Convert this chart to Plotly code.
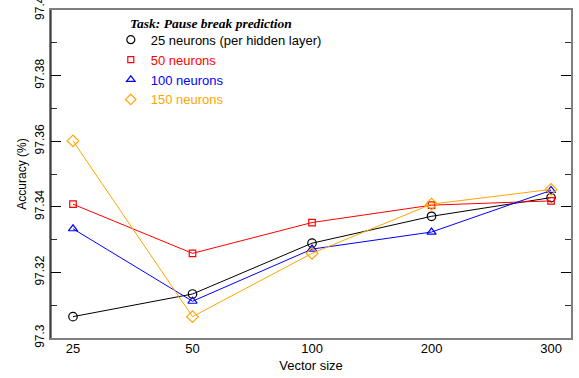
import plotly.graph_objects as go

vector_sizes = ["25", "50", "100", "200", "300"]
acc_25 = [97.3065, 97.3134, 97.3289, 97.3371, 97.3428]
acc_50 = [97.3408, 97.3258, 97.3352, 97.3405, 97.3418]
acc_100 = [97.3333, 97.3112, 97.3271, 97.3323, 97.3450]
acc_150 = [97.3601, 97.3065, 97.3258, 97.3408, 97.3453]

series_names = ["25 neurons (per hidden layer)", "50 neurons", "100 neurons", "150 neurons"]
series_values = [acc_25, acc_50, acc_100, acc_150]
colors = ["#000000", "#ff0000", "#0000ff", "#ffa500"]
symbols = ["circle-open", "square-open", "triangle-up-open", "diamond-open"]
sizes = [8.5, 6.5, 8, 9]
legend_sizes = [8, 6, 7.5, 8]

y_ticks = [97.30, 97.32, 97.34, 97.36, 97.38, 97.40]
y_tick_labels = ["97.3", "97.32", "97.34", "97.36", "97.38", "97.4"]

fig = go.Figure()
for name, vals, c, s, sz, lsz in zip(series_names, series_values, colors, symbols, sizes, legend_sizes):
    fig.add_trace(go.Scatter(
        x=vector_sizes, y=vals, mode="lines+markers", showlegend=False,
        line=dict(color=c, width=1),
        marker=dict(symbol=s, size=sz, color=c, line=dict(color=c, width=1.2)),
    ))
    fig.add_trace(go.Scatter(
        x=[None], y=[None], mode="markers",
        name=f'<span style="color:{c}">{name}</span>',
        marker=dict(symbol=s, size=lsz, color=c, line=dict(color=c, width=1.2)),
    ))

fig.update_layout(
    width=579, height=378,
    margin=dict(l=51, r=8, t=10, b=40, autoexpand=False),
    paper_bgcolor="white", plot_bgcolor="white",
    font=dict(family="Liberation Sans, Arial", size=12, color="black"),
    showlegend=True,
    legend=dict(x=0.115, y=0.955, xanchor="left", yanchor="top",
                font=dict(size=13), bgcolor="rgba(0,0,0,0)",
                tracegroupgap=0, itemwidth=30),
    xaxis=dict(type="category", range=[-0.184, 4.167], automargin=False,
               showline=True, linecolor="#7f7f7f", linewidth=2, mirror=True,
               ticks="", showgrid=False, zeroline=False,
               tickfont=dict(size=13), ticklabelstandoff=-3,
               title=dict(text="Vector size", font=dict(size=13), standoff=6)),
    yaxis=dict(range=[97.29999, 97.40001], tickvals=y_ticks, ticktext=y_tick_labels,
               automargin=False, ticklabeloverflow="allow",
               tickangle=-90, ticks="inside", ticklen=10, tickcolor="black",
               minor=dict(ticks="inside", ticklen=6, dtick=0.01, tick0=97.30, tickcolor="#333"),
               showline=True, linecolor="#7f7f7f", linewidth=2, mirror="ticks",
               showgrid=False, zeroline=False, tickfont=dict(size=12),
               title=dict(text="Accuracy (%)", font=dict(size=12), standoff=4)),
    annotations=[dict(
        text="<b><i>Task: Pause break prediction</i></b>",
        xref="paper", yref="paper", x=0.148, y=0.96, xanchor="left", yanchor="middle",
        showarrow=False, font=dict(family="Liberation Serif, Times New Roman", size=13.5, color="black"),
    )],
    shapes=[dict(type="line", xref="x domain", yref="y domain", x0=0, x1=0, y0=0, y1=1,
                 line=dict(color="black", width=1))],
)

fig.write_html("out.html", config={"displayModeBar": False},
               post_script="document.body.style.margin='0';")
